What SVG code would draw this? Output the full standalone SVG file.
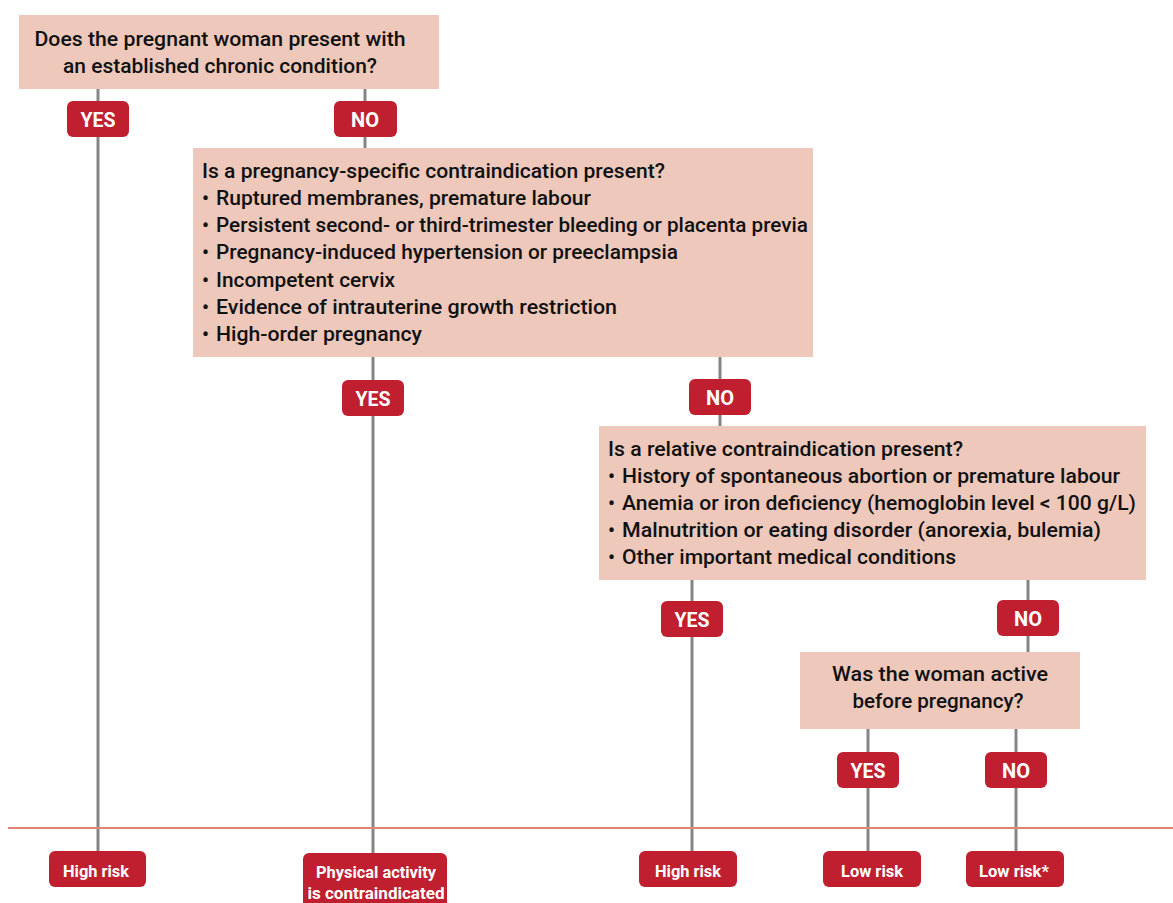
<svg xmlns="http://www.w3.org/2000/svg" width="1173" height="903" viewBox="0 0 1173 903">
<defs>
<style>
.box{fill:#EDC8BB;}
.q{font-family:Roboto,"Liberation Sans",sans-serif;font-weight:500;font-size:20px;fill:#111;}
.badge{fill:#C01F30;}
.bt{font-family:Roboto,"Liberation Sans",sans-serif;font-weight:700;font-size:21px;fill:#fff;text-anchor:middle;}
.rt{font-family:Roboto,"Liberation Sans",sans-serif;font-weight:700;font-size:16px;fill:#fff;text-anchor:middle;}
.conn{stroke:#858585;stroke-width:3;fill:none;}
</style>
</defs>
<rect width="1173" height="903" fill="#fff"/>
<g id="connectors">
<line class="conn" x1="98" y1="89" x2="98" y2="852"/>
<line class="conn" x1="365" y1="89" x2="365" y2="148"/>
<line class="conn" x1="373" y1="357" x2="373" y2="853"/>
<line class="conn" x1="720" y1="357" x2="720" y2="426"/>
<line class="conn" x1="692" y1="580" x2="692" y2="852"/>
<line class="conn" x1="1028" y1="580" x2="1028" y2="652"/>
<line class="conn" x1="868" y1="729" x2="868" y2="852"/>
<line class="conn" x1="1016" y1="729" x2="1016" y2="852"/>
</g>
<line id="divider" x1="8" y1="828" x2="1173" y2="828" stroke="#E08575" stroke-width="2"/>
<g id="q1">
<rect class="box" x="19" y="15" width="420" height="74"/>
<text class="q" x="220" y="46" text-anchor="middle" textLength="371" lengthAdjust="spacingAndGlyphs">Does the pregnant woman present with</text>
<text class="q" x="220" y="73" text-anchor="middle" textLength="314" lengthAdjust="spacingAndGlyphs">an established chronic condition?</text>
</g>
<g id="q1-yes"><rect class="badge" x="67" y="101" width="62" height="36" rx="6"/><text class="bt" x="98" y="127" textLength="35" lengthAdjust="spacingAndGlyphs">YES</text></g>
<g id="q1-no"><rect class="badge" x="334" y="101" width="63" height="36" rx="6"/><text class="bt" x="365" y="127" textLength="28" lengthAdjust="spacingAndGlyphs">NO</text></g>
<g id="q2">
<rect class="box" x="193" y="148" width="620" height="209"/>
<text class="q" x="202" y="178" textLength="463" lengthAdjust="spacingAndGlyphs">Is a pregnancy-specific contraindication present?</text>
<text class="q" x="202" y="205">•</text><text class="q" x="216" y="205" textLength="375" lengthAdjust="spacingAndGlyphs">Ruptured membranes, premature labour</text>
<text class="q" x="202" y="232">•</text><text class="q" x="216" y="232" textLength="592" lengthAdjust="spacingAndGlyphs">Persistent second- or third-trimester bleeding or placenta previa</text>
<text class="q" x="202" y="259">•</text><text class="q" x="216" y="259" textLength="462" lengthAdjust="spacingAndGlyphs">Pregnancy-induced hypertension or preeclampsia</text>
<text class="q" x="202" y="287">•</text><text class="q" x="216" y="287" textLength="179" lengthAdjust="spacingAndGlyphs">Incompetent cervix</text>
<text class="q" x="202" y="314">•</text><text class="q" x="216" y="314" textLength="401" lengthAdjust="spacingAndGlyphs">Evidence of intrauterine growth restriction</text>
<text class="q" x="202" y="341">•</text><text class="q" x="216" y="341" textLength="206" lengthAdjust="spacingAndGlyphs">High-order pregnancy</text>
</g>
<g id="q2-yes"><rect class="badge" x="342" y="380" width="62" height="36" rx="6"/><text class="bt" x="373" y="406" textLength="35" lengthAdjust="spacingAndGlyphs">YES</text></g>
<g id="q2-no"><rect class="badge" x="689" y="379" width="62" height="36" rx="6"/><text class="bt" x="720" y="405" textLength="28" lengthAdjust="spacingAndGlyphs">NO</text></g>
<g id="q3">
<rect class="box" x="599" y="426" width="547" height="154"/>
<text class="q" x="608" y="456" textLength="355" lengthAdjust="spacingAndGlyphs">Is a relative contraindication present?</text>
<text class="q" x="608" y="483">•</text><text class="q" x="622" y="483" textLength="498" lengthAdjust="spacingAndGlyphs">History of spontaneous abortion or premature labour</text>
<text class="q" x="608" y="510">•</text><text class="q" x="622" y="510" textLength="514" lengthAdjust="spacingAndGlyphs">Anemia or iron deficiency (hemoglobin level &lt; 100 g/L)</text>
<text class="q" x="608" y="537">•</text><text class="q" x="622" y="537" textLength="479" lengthAdjust="spacingAndGlyphs">Malnutrition or eating disorder (anorexia, bulemia)</text>
<text class="q" x="608" y="564">•</text><text class="q" x="622" y="564" textLength="334" lengthAdjust="spacingAndGlyphs">Other important medical conditions</text>
</g>
<g id="q3-yes"><rect class="badge" x="661" y="601" width="62" height="36" rx="6"/><text class="bt" x="692" y="627" textLength="35" lengthAdjust="spacingAndGlyphs">YES</text></g>
<g id="q3-no"><rect class="badge" x="997" y="600" width="62" height="36" rx="6"/><text class="bt" x="1028" y="626" textLength="28" lengthAdjust="spacingAndGlyphs">NO</text></g>
<g id="q4">
<rect class="box" x="800" y="652" width="280" height="77"/>
<text class="q" x="940" y="681" text-anchor="middle" textLength="216" lengthAdjust="spacingAndGlyphs">Was the woman active</text>
<text class="q" x="938" y="708" text-anchor="middle" textLength="171" lengthAdjust="spacingAndGlyphs">before pregnancy?</text>
</g>
<g id="q4-yes"><rect class="badge" x="837" y="752" width="62" height="36" rx="6"/><text class="bt" x="868" y="778" textLength="35" lengthAdjust="spacingAndGlyphs">YES</text></g>
<g id="q4-no"><rect class="badge" x="985" y="752" width="62" height="36" rx="6"/><text class="bt" x="1016" y="778" textLength="28" lengthAdjust="spacingAndGlyphs">NO</text></g>
<g id="r1"><rect class="badge" x="49" y="851" width="97" height="36" rx="6"/><text class="rt" x="96" y="877" textLength="66" lengthAdjust="spacingAndGlyphs">High risk</text></g>
<g id="r2"><rect class="badge" x="303" y="853" width="144" height="60" rx="6"/><text class="rt" x="376" y="878" textLength="120" lengthAdjust="spacingAndGlyphs">Physical activity</text><text class="rt" x="376" y="899" textLength="137" lengthAdjust="spacingAndGlyphs">is contraindicated</text></g>
<g id="r3"><rect class="badge" x="639" y="851" width="98" height="36" rx="6"/><text class="rt" x="688" y="877" textLength="66" lengthAdjust="spacingAndGlyphs">High risk</text></g>
<g id="r4"><rect class="badge" x="823" y="851" width="98" height="36" rx="6"/><text class="rt" x="872" y="877" textLength="62" lengthAdjust="spacingAndGlyphs">Low risk</text></g>
<g id="r5"><rect class="badge" x="966" y="851" width="98" height="36" rx="6"/><text class="rt" x="1014" y="877" textLength="70" lengthAdjust="spacingAndGlyphs">Low risk*</text></g>
</svg>
